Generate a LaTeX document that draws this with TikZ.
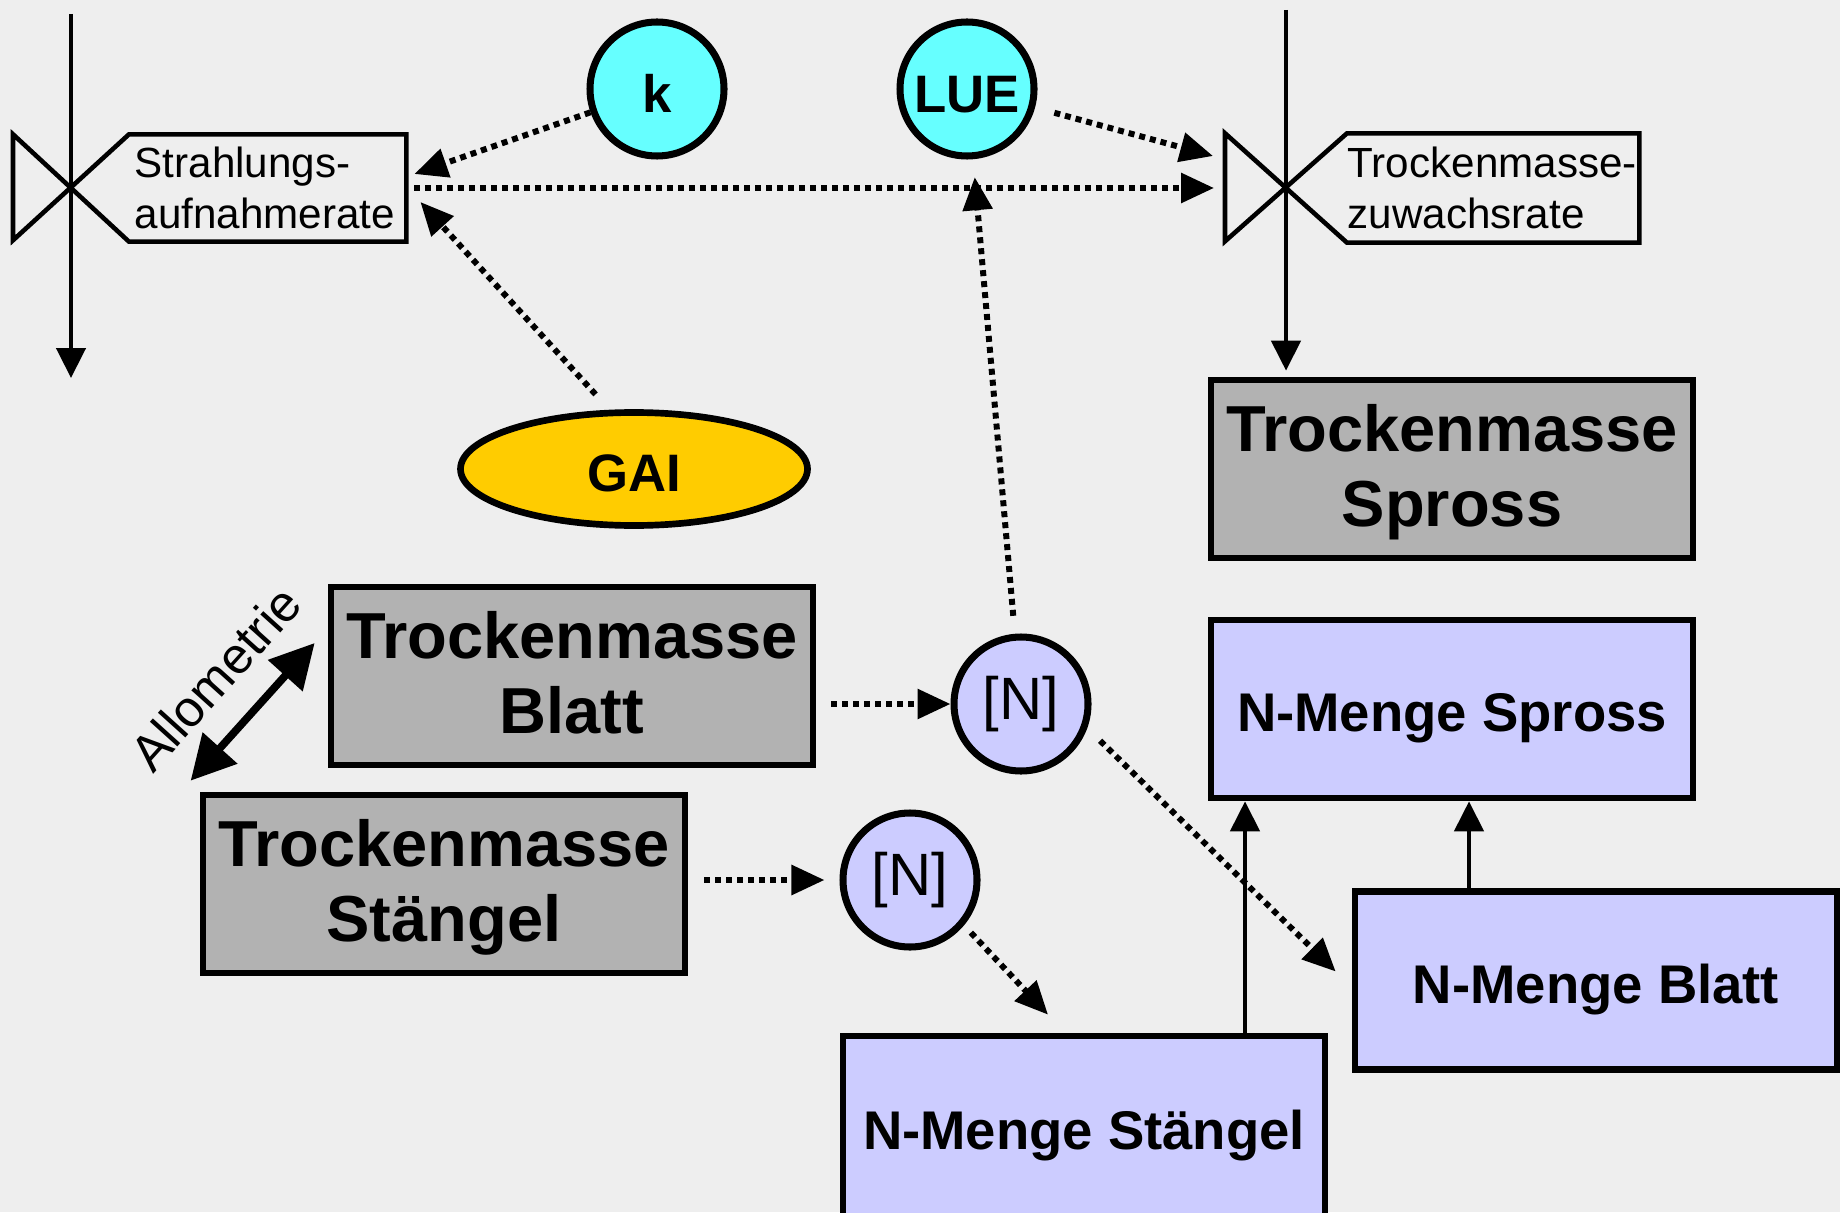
\documentclass[tikz,border=0pt]{standalone}
\usepackage{fontspec}
\setmainfont{Liberation Sans}
\usetikzlibrary{arrows.meta,positioning,shapes.geometric}
\definecolor{bgcol}{HTML}{EEEEEE}
\definecolor{paramcyan}{HTML}{66FFFF}
\definecolor{gaigold}{HTML}{FFCC00}
\definecolor{tmgray}{HTML}{B2B2B2}
\definecolor{nlila}{HTML}{CCCCFF}
\tikzset{
  stockbox/.style={draw, line width=1.9pt, fill=tmgray, minimum width=48.2mm, minimum height=17.8mm,
    inner sep=0pt, align=center, text height=33pt, text depth=0pt,
    font=\bfseries\fontsize{18.5}{21.4}\selectfont},
  nbox/.style={stockbox, fill=nlila, text height=12.8pt, text depth=0pt,
    font=\bfseries\fontsize{15.5}{18}\selectfont},
  param/.style={circle, draw, line width=2pt, fill=paramcyan, minimum size=13.4mm, inner sep=0pt,
    text height=13.4pt, text depth=0pt, font=\bfseries\fontsize{15}{18}\selectfont},
  conc/.style={circle, draw, line width=2pt, fill=nlila, minimum size=13.4mm, inner sep=0pt,
    font=\fontsize{17}{20}\selectfont},
  ratelabel/.style={align=left, inner xsep=0.5mm, inner ysep=0pt, font=\fontsize{12}{14.3}\selectfont},
  valve/.style={line width=1.3pt},
  flow/.style={line width=1.3pt, -{Triangle[length=3mm,width=2.9mm]}},
  infl/.style={line width=1.7pt, dash pattern=on 0.6mm off 0.5mm, -{Triangle[length=3.3mm,width=2.9mm]}},
  allo/.style={line width=2.2pt, {Triangle[length=4.4mm,width=4.5mm]}-{Triangle[length=4.4mm,width=4.5mm]}},
}
\begin{document}
\begin{tikzpicture}[x=1mm,y=1mm]
\fill[bgcol] (0,0) rectangle (184,121.2);
\useasboundingbox (0,0) rectangle (184,121.2);

\coordinate (v1) at (7.1,102.4);
\coordinate (v2) at (128.6,102.4);
\node[ratelabel, text width=26.6mm, minimum height=10.6mm, right=5.8mm of v1] (sar) {Strahlungs-\\aufnahmerate};
\node[ratelabel, inner xsep=0pt, text width=29.1mm, minimum height=10.8mm, right=6.1mm of v2] (tmz) {Trockenmasse-\\zuwachsrate};
\draw[valve] (sar.north west) -- ++(-11.6,-10.6) -- ++(0,10.6) -- (sar.south west) -- (sar.south east) -- (sar.north east) -- cycle;
\draw[valve] (tmz.north west) -- ++(-12.2,-10.8) -- ++(0,10.8) -- (tmz.south west) -- (tmz.south east) -- (tmz.north east) -- cycle;

\node[param] (k) at (65.7,112.3) {k};
\node[param] (lue) at (96.7,112.3) {LUE};
\node[ellipse, draw, line width=1.9pt, fill=gaigold, minimum width=34.7mm, minimum height=11.3mm,
  text height=13pt, text depth=0pt, font=\bfseries\fontsize{15}{18}\selectfont] (gai) at (63.4,74.3) {GAI};

\node[stockbox] (tms) at (145.2,74.3) {Trockenmasse\\Spross};
\node[stockbox] (tmb) at (57.2,53.6) {Trockenmasse\\Blatt};
\node[stockbox] (tmst) at (44.4,32.8) {Trockenmasse\\Stängel};
\node[nbox] (nmsp) at (145.2,50.3) {N-Menge Spross};
\node[nbox] (nmb) at (159.6,23.15) {N-Menge Blatt};
\node[nbox, minimum height=18.2mm] (nmst) at (108.4,8.5) {N-Menge Stängel};
\node[conc] (n1) at (102.1,50.8) {[N]};
\node[conc] (n2) at (91.0,33.2) {[N]};

\draw[flow] ([yshift=17.4mm]v1) -- ([yshift=-19mm]v1);
\draw[flow, shorten >=0.6mm] ([yshift=17.8mm]v2) -- (v2 |- tms.north);

\draw[infl] (k) -- ([shift={(0.8,1.4)}]sar.east);
\draw[infl, shorten <=2mm] ([xshift=-2.5mm]gai.north) -- ([shift={(1.4,-1.4)}]sar.east);
\draw[infl] ([xshift=0.8mm]sar.east) -- ([xshift=-7.2mm]v2);
\draw[infl, shorten <=2mm] (lue) -- ([shift={(-7.3,3.2)}]v2);
\draw[infl, shorten <=1.8mm, shorten >=1.8mm] (n1) -- (lue);
\draw[infl] ([xshift=1.5mm]tmb.east |- n1.west) -- (n1.west);
\draw[infl] ([xshift=1.6mm]tmst.east |- n2.west) -- ([xshift=-1.5mm]n2.west);
\draw[infl, shorten <=1mm] (n2.-40) -- ([shift={(-3.6,1.8)}]nmst.north);
\draw[infl, shorten <=1.8mm] (n1.-20) -- ([shift={(-1.6,0.9)}]nmb.west);

\draw[flow] ([xshift=16.1mm]nmst.north) -- ([xshift=16.1mm]nmst.north |- nmsp.south);
\draw[flow] ([xshift=-12.7mm]nmb.north) -- ([xshift=-12.7mm]nmb.north |- nmsp.south);

\draw[allo] ([shift={(-0.9,1.1)}]tmst.north west) -- ([shift={(-1.3,3.3)}]tmb.west)
  node[midway, sloped, above=1.6mm, font=\fontsize{14.5}{16}\selectfont] (allolab) {Allometrie};
\end{tikzpicture}
\end{document}
